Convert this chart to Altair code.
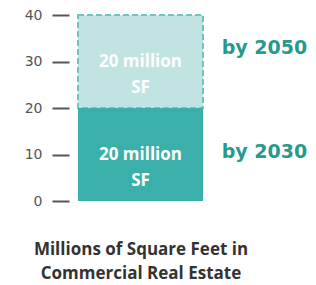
import altair as alt
import pandas as pd

periods = ["by 2030", "by 2050"]
seg_start = [0, 20]
seg_end = [20, 40]
seg_label = ["20 million\nSF", "20 million\nSF"]
seg_color = ["#3bb0aa", "#c1e3e2"]
label_y = [10.5, 33]
title_lines = ["Millions of Square Feet in", "Commercial Real Estate"]

df = pd.DataFrame({
    "period": periods,
    "start": seg_start,
    "end": seg_end,
    "mid": [(a + b) / 2 for a, b in zip(seg_start, seg_end)],
    "label": seg_label,
    "color": seg_color,
    "label_y": label_y,
    "x0": [0, 0],
    "x1": [1, 1],
    "xl": [1.15, 1.15],
})

xs = alt.Scale(domain=[0, 1.84])
ys = alt.Scale(domain=[0, 40], nice=False)

base = alt.Chart(df)

yaxis = alt.Axis(
    values=[0, 5, 10, 15, 20, 25, 30, 35, 40],
    labelExpr="datum.value % 10 == 0 ? datum.label : ''",
    domain=False, grid=False, title=None,
    tickSize=17, tickWidth=2, tickColor="#555555",
    offset=9, labelPadding=10,
    labelFont="DejaVu Sans", labelFontSize=14, labelColor="#555555",
)

light = base.transform_filter(alt.datum.period == "by 2050").mark_rect(
    stroke="#6ec4be", strokeWidth=2, strokeDash=[6, 3]
).encode(
    x=alt.X("x0:Q", scale=xs, axis=None),
    x2="x1:Q",
    y=alt.Y("start:Q", scale=ys, axis=yaxis),
    y2="end:Q",
    fill=alt.Fill("color:N", scale=None),
)

dark = base.transform_filter(alt.datum.period == "by 2030").mark_rect().encode(
    x=alt.X("x0:Q", scale=xs, axis=None),
    x2="x1:Q",
    y=alt.Y("start:Q", scale=ys),
    y2="end:Q",
    fill=alt.Fill("color:N", scale=None),
)

inner = base.mark_text(
    lineBreak="\n", font="Open Sans", fontWeight="bold", fontSize=17,
    color="white", lineHeight=26, baseline="middle", align="center",
).encode(
    x=alt.value(62.5),
    y=alt.Y("mid:Q", scale=ys),
    text="label:N",
)

side = base.mark_text(
    font="DejaVu Sans", fontWeight="bold", fontSize=19, color="#27998f",
    align="left", baseline="middle",
).encode(
    x=alt.X("xl:Q", scale=xs),
    y=alt.Y("label_y:Q", scale=ys),
    text="period:N",
)

chart = alt.layer(light, dark, inner, side).properties(
    width=230, height=186,
    padding={"left": 70, "top": 7, "right": 0, "bottom": 92},
    autosize=alt.AutoSizeParams(type="none"),
    title=alt.TitleParams(
        text=title_lines, orient="bottom", anchor="middle", frame="group",
        dx=-52, offset=34, font="Open Sans", fontWeight="bold", fontSize=17,
        lineHeight=24, color="#333333",
    ),
).configure_view(stroke=None)

chart.save("out.html", embed_options={"renderer": "svg", "actions": False})
